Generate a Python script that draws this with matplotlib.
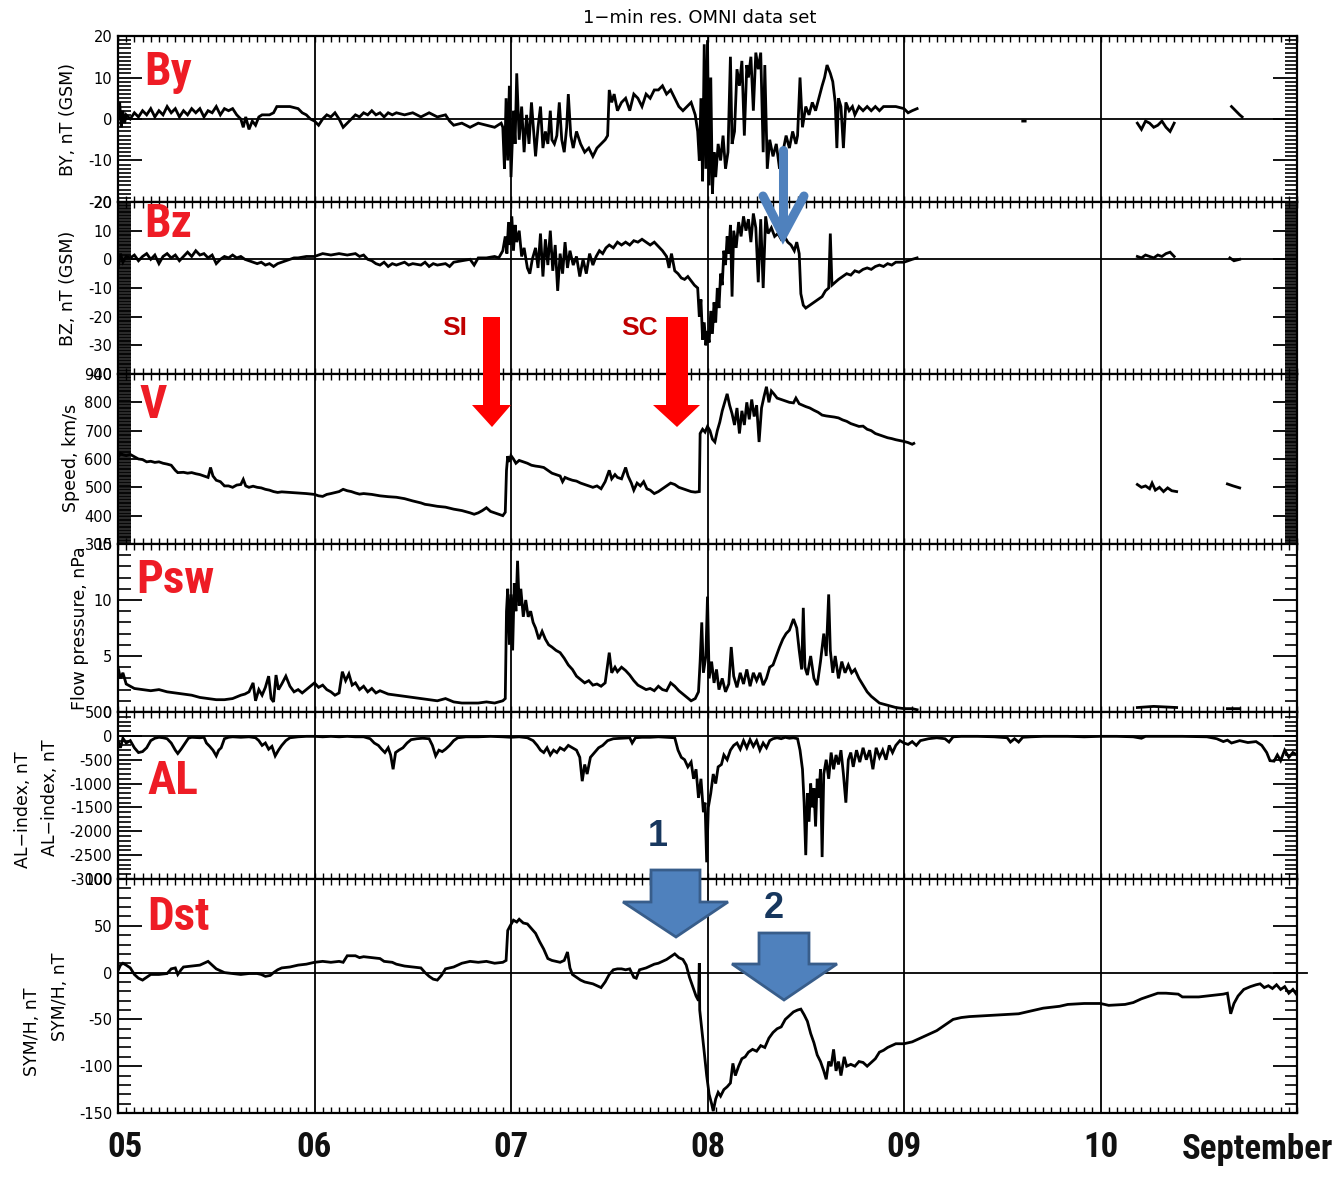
import numpy as np
import matplotlib
matplotlib.use("Agg")
import matplotlib.pyplot as plt
from matplotlib import font_manager
from matplotlib.patches import Polygon
from matplotlib.ticker import MultipleLocator, FixedLocator
from matplotlib.transforms import ScaledTranslation

nan = float("nan")

# ---------------- data (hours since 5 Sept 00 UT, value) ----------------
by_pts = [
(0.0,0),(0.2,4),(0.4,-2),(0.6,2),(0.8,-1),(1.0,1),(1.5,0),(2.0,1.5),(2.5,0.5),(3.0,2),(3.5,1),(4.0,2.5),(4.5,0.5),
(5.0,2),(5.5,1),(6.0,3),(6.5,1.5),(7.0,2.5),(7.5,0.5),(8.0,2),(8.5,1),(9.0,2.5),(9.5,1.5),(10.0,2.5),(10.5,0.5),
(11.0,2),(11.5,1.5),(12.0,3),(12.5,1),(13.0,2.5),(13.5,2),(14.0,2.5),(14.5,1),(15.0,0),(15.3,-2),(15.6,0.5),
(16.0,-2.5),(16.4,-0.5),(16.8,-1.5),(17.2,0.5),(17.6,1),(18.5,1),(19.0,1.5),(19.4,3),(20.0,3),(21.0,3),(22.0,2.5),
(22.5,1.5),(23.0,1),(23.5,0),(24.0,-0.5),(24.5,-1.5),(25.0,0),(25.5,1),(26.0,0.5),(26.5,1.5),(27.0,0),(27.5,-2),
(28.0,-1),(28.5,0),(29.0,1),(29.5,0.5),(30.0,1.5),(30.5,1),(31.0,2),(31.5,1),(32.0,1.5),(32.5,0.5),(33.0,1.5),
(33.5,1),(34.0,1.5),(35.0,1),(36.0,1.5),(37.0,0.5),(38.0,1.5),(39.0,0.5),(40.0,1),(40.5,-0.5),(41.0,-1.5),
(42.0,-1),(43.0,-2),(44.0,-1),(45.0,-1.5),(46.0,-2),(46.8,-1),(47.0,-2),
(47.2,-12),(47.4,5),(47.6,-10),(47.8,8),(48.0,-14),(48.3,2),(48.5,-6),(48.7,11),(49.0,-5),(49.3,3),(49.6,-8),
(49.9,1),(50.2,-6),(50.5,4),(50.8,-4),(51.0,-9),(51.3,-2),(51.6,3),(51.9,-7),(52.2,-3),(52.5,-6),(52.8,2),
(53.0,-5),(53.3,-6),(53.6,-4),(53.9,4),(54.2,-5),(54.5,-8),(54.8,-2),(55.0,6),(55.3,-4),(55.6,-7),(56.0,-3),
(56.5,-6),(57.0,-8),(57.5,-7),(58.0,-9),(58.5,-7),(59.0,-6),(59.5,-5),(59.8,-4),(60.0,7),(60.3,4),(60.6,6),
(61.0,2),(61.5,4),(62.0,5),(62.5,2),(63.0,6),(63.5,5),(64.0,3),(64.5,6),(65.0,5),(65.5,7),(66.0,7),(66.5,8),
(67.0,6),(67.5,7),(68.0,5),(68.5,3),(69.0,2),(69.5,3),(70.0,4),(70.5,1),(70.8,-3),
(71.0,-10),(71.2,5),(71.4,-15),(71.6,18),(71.8,-12),(72.0,19),(72.2,-16),(72.4,10),(72.6,-18),(72.8,-8),
(73.0,-14),(73.3,-6),(73.6,-10),(73.9,-4),(74.2,-12),(74.5,-8),(74.8,15),(75.0,-6),(75.3,-3),(75.6,12),
(75.9,8),(76.2,14),(76.5,-4),(76.8,13),(77.0,10),(77.3,15),(77.6,2),(77.9,16),(78.2,12),(78.5,16),(78.8,-8),
(79.0,13),(79.3,-12),(79.6,-5),(80.0,-9),(80.4,-6),(80.8,-12),(81.2,-8),(81.6,-4),(82.0,-7),(82.4,-3),
(82.8,-6),(83.0,-4),(83.3,10),(83.6,-2),(84.0,3),(84.4,1),(84.8,4),(85.2,2),(85.6,5),(86.0,8),(86.3,10),
(86.6,13),(87.0,11),(87.3,9),(87.6,4),(87.8,-7),(88.0,5),(88.3,3),(88.6,-7),(88.9,4),(89.3,2),(89.7,3),
(90.0,1),(90.5,3),(91.0,2),(91.5,3),(92.0,2),(92.5,3),(93.0,2),(93.5,3),(94.0,3),(95.0,3),(96.0,2.5),
(96.5,1.5),(97.0,2),(97.6,2.5),(98.0,nan),
(110.5,-0.5),(110.8,-0.5),(111.0,nan),
(124.5,-1),(125.0,-2.5),(125.5,-0.5),(126.0,-1),(126.5,-2),(127.0,-1.5),(127.5,-0.5),(128.0,-2),(128.5,-3),
(129.0,-1),(129.5,nan),
(136.0,3),(136.5,2),(137.0,1),(137.3,0.5),
]

bz_pts = [
(0.0,-3),(0.3,2),(0.6,-1),(1.0,1),(1.5,0.5),(2.0,1.5),(2.5,-0.5),(3.0,1),(3.5,2),(4.0,0),(4.5,1.5),(5.0,-1.5),
(5.5,1),(6.0,2),(6.5,0.5),(7.0,1.5),(7.5,-0.5),(8.0,1),(8.5,2.5),(9.0,1),(9.5,3),(10.0,1.5),(10.5,2),(11.0,0.5),
(11.5,1.5),(12.0,-1.5),(12.5,0),(13.0,1),(13.5,0.5),(14.0,1.5),(14.5,0.5),(15.0,1),(15.5,0),(16.0,-0.5),
(16.5,-1),(17.0,-1.5),(17.5,-1),(18.0,-2),(18.5,-1.5),(19.0,-2.5),(19.5,-1.5),(20.0,-1),(20.5,-0.5),(21.0,0),
(21.5,0.5),(22.0,0.5),(23.0,1),(24.0,1),(25.0,2),(26.0,1.5),(27.0,2),(28.0,1.5),(29.0,2),(29.5,1),(30.0,1.5),
(30.5,0),(31.0,-0.5),(31.5,-1.5),(32.0,-2),(32.5,-1),(33.0,-2.5),(33.5,-1.5),(34.0,-2),(35.0,-1),(35.5,-2),
(36.0,-1.5),(37.0,-2),(37.5,-1),(38.0,-2.5),(38.5,-1.5),(39.0,-2),(40.0,-1.5),(40.5,-2.5),(41.0,-1),(42.0,-0.5),
(43.0,0),(43.5,-2),(44.0,0.5),(45.0,0.5),(46.0,1),(46.5,0.5),(47.0,3),
(47.3,8),(47.5,2),(47.7,13),(47.9,5),(48.1,15),(48.3,3),(48.5,12),(48.7,6),(49.0,10),(49.3,1),(49.6,4),
(50.0,-3),(50.3,-5),(50.6,0),(51.0,4),(51.3,-3),(51.6,9),(51.9,-6),(52.2,7),(52.5,-2),(52.8,10),(53.1,-4),
(53.4,5),(53.7,-11),(54.0,2),(54.3,-5),(54.6,6),(54.9,-3),(55.2,3),(55.6,-2),(56.0,1),(56.4,-6),(56.8,0),
(57.2,-5),(57.6,2),(58.0,-2),(58.4,1),(58.8,3),(59.2,2),(59.6,4),(60.0,5),(60.5,4),(61.0,6),(61.5,5),(62.0,6),
(62.5,5),(63.0,6.5),(63.5,6),(64.0,7),(64.5,6),(65.0,5),(65.5,6),(66.0,4.5),(66.5,3),(67.0,1),(67.3,-3),
(67.6,2),(68.0,-4),(68.4,-5),(68.8,-6.5),(69.2,-7),(69.6,-6),(70.0,-7.5),(70.4,-9),(70.8,-10),(71.0,-20),
(71.2,-14),(71.4,-28),(71.6,-22),(71.8,-30),(72.0,-25),(72.2,-29),(72.4,-18),(72.6,-26),(72.8,-15),(73.0,-22),
(73.2,-10),(73.4,-17),(73.6,-5),(73.8,-9),(74.0,3),(74.2,-2),(74.4,8),(74.6,2),(74.8,12),(75.0,-13),(75.2,10),
(75.5,4),(75.8,13),(76.1,8),(76.4,15),(76.7,10),(77.0,14),(77.3,6),(77.6,16),(77.9,11),(78.2,-8),(78.5,14),
(78.8,-10),(79.1,15),(79.4,9),(79.8,11),(80.2,8),(80.6,9),(81.0,7),(81.4,8),(81.8,6),(82.2,5),(82.6,3),
(82.9,6),(83.2,2),(83.4,-12),(83.7,-16),(84.0,-17),(84.5,-16),(85.0,-15),(85.5,-14),(86.0,-13),(86.4,-11),
(86.8,-10),(87.0,9),(87.2,-9),(87.6,-8),(88.0,-7),(88.5,-6),(89.0,-5),(89.5,-5.5),(90.0,-4),(90.5,-4.5),
(91.0,-3.5),(91.5,-3),(92.0,-3.5),(92.5,-2.5),(93.0,-2),(93.5,-2.5),(94.0,-1.5),(94.5,-2),(95.0,-1),
(96.0,-1),(97.0,0),(97.6,0.5),(98.0,nan),
(124.5,1),(125.0,0.5),(125.5,1.5),(126.0,1),(126.5,0.5),(127.0,1.5),(127.5,1),(128.0,2),(128.5,2.5),
(129.0,1),(129.5,nan),
(135.8,0.5),(136.3,-0.5),(137.0,0),
]

v_pts = [
(0.0,605),(0.3,620),(0.6,615),(1.0,612),(1.5,616),(2.0,608),(2.5,600),(3.0,598),(3.5,590),(4.0,592),(4.5,588),
(5.0,590),(5.5,585),(6.0,582),(6.5,578),(7.0,560),(7.3,552),(8.0,553),(8.5,550),(9.0,552),(9.5,548),(10.0,545),
(10.5,540),(11.0,535),(11.3,570),(11.6,540),(12.0,525),(12.5,520),(13.0,505),(13.5,505),(14.0,500),(14.5,508),
(15.0,510),(15.3,528),(15.6,505),(16.0,500),(16.5,504),(17.0,500),(17.5,498),(18.0,493),(18.5,490),(19.0,485),
(19.5,482),(20.0,484),(21.0,482),(22.0,480),(23.0,478),(24.0,475),(24.5,470),(25.0,468),(25.5,475),(26.0,478),
(27.0,485),(27.5,493),(28.0,488),(28.5,485),(29.0,480),(29.5,476),(30.0,478),(31.0,475),(32.0,470),(33.0,467),
(34.0,465),(35.0,460),(36.0,452),(37.0,445),(37.5,440),(38.0,438),(39.0,433),(40.0,430),(41.0,423),(42.0,418),
(43.0,410),(43.5,405),(44.0,410),(44.5,418),(45.0,428),(45.5,415),(46.0,410),(46.5,405),(47.0,400),(47.3,412),
(47.45,560),(47.6,610),(47.8,590),(48.0,612),(48.3,600),(48.6,585),(49.0,595),(49.5,590),(50.0,585),(50.5,578),
(51.0,575),(51.5,573),(52.0,570),(52.5,560),(53.0,550),(53.5,545),(54.0,540),(54.3,520),(54.6,535),(55.0,530),
(55.5,525),(56.0,522),(56.5,515),(57.0,510),(57.5,505),(58.0,500),(58.5,505),(59.0,495),(59.5,520),(60.0,560),
(60.3,530),(60.7,545),(61.0,535),(61.5,530),(62.0,570),(62.3,540),(62.7,515),(63.0,490),(63.4,515),(63.8,505),
(64.2,520),(64.6,495),(65.0,490),(65.5,478),(66.0,485),(66.5,495),(67.0,505),(67.5,515),(68.0,510),(68.5,500),
(69.0,495),(69.5,490),(70.0,485),(70.5,483),(71.0,485),(71.1,690),(71.4,705),(71.7,695),(72.0,715),(72.3,700),
(72.6,670),(72.9,660),(73.2,700),(73.5,730),(73.8,770),(74.1,800),(74.4,830),(74.7,790),(75.0,760),(75.3,720),
(75.6,780),(75.9,690),(76.2,770),(76.5,720),(76.8,800),(77.1,740),(77.4,810),(77.7,750),(78.0,790),(78.3,660),
(78.6,780),(78.9,820),(79.2,855),(79.5,800),(79.8,840),(80.1,830),(80.5,815),(81.0,810),(81.5,805),(82.0,800),
(82.5,798),(82.8,815),(83.2,795),(83.6,790),(84.0,785),(84.5,780),(85.0,772),(85.5,765),(86.0,755),(86.5,752),
(87.0,750),(87.5,748),(88.0,745),(88.5,738),(89.0,733),(89.5,725),(90.0,720),(90.5,715),(91.0,716),(91.5,705),
(92.0,700),(92.5,690),(93.0,685),(93.5,680),(94.0,675),(94.5,672),(95.0,668),(95.5,665),(96.0,662),(96.5,658),
(97.0,652),(97.2,655),(97.5,nan),
(124.5,510),(125.0,500),(125.5,505),(126.0,495),(126.3,515),(126.7,490),(127.2,500),(127.7,485),(128.2,498),
(128.7,488),(129.3,485),(129.5,nan),
(135.5,512),(136.2,505),(137.0,498),
]

psw_pts = [
(0.0,4.0),(0.3,3.0),(0.6,3.5),(1.0,2.5),(1.5,2.3),(2.0,2.1),(3.0,2.0),(4.0,1.9),(5.0,2.0),(6.0,1.8),(7.0,1.7),
(8.0,1.6),(9.0,1.5),(10.0,1.3),(11.0,1.2),(12.0,1.1),(13.0,1.1),(14.0,1.2),(15.0,1.5),(15.5,1.6),(16.0,1.8),
(16.5,2.6),(16.8,1.0),(17.2,2.0),(17.6,1.5),(18.0,2.2),(18.4,3.2),(18.7,1.2),(19.0,0.9),(19.3,3.3),(19.6,2.0),
(20.0,2.5),(20.5,3.2),(21.0,2.3),(21.5,1.8),(22.0,2.0),(22.5,1.7),(23.0,2.0),(23.5,2.3),(24.0,2.6),(24.5,2.2),
(25.0,2.4),(25.5,2.0),(26.0,1.8),(26.5,1.5),(27.0,1.7),(27.4,3.6),(27.8,2.8),(28.2,3.4),(28.6,2.4),(29.0,2.6),
(29.5,2.0),(30.0,2.3),(30.5,1.8),(31.0,2.1),(31.5,1.7),(32.0,1.9),(33.0,1.6),(34.0,1.5),(35.0,1.4),(36.0,1.3),
(37.0,1.2),(38.0,1.1),(39.0,1.0),(40.0,1.2),(41.0,0.9),(42.0,0.8),(43.0,0.8),(44.0,0.8),(45.0,0.9),(46.0,0.8),
(47.0,1.0),(47.3,1.2),(47.45,9.0),(47.6,11.0),(47.8,6.0),(48.0,10.5),(48.2,5.5),(48.4,11.5),(48.6,9.0),
(48.8,13.5),(49.0,9.5),(49.2,11.0),(49.5,8.5),(49.8,10.0),(50.1,8.5),(50.4,9.0),(50.7,8.0),(51.0,7.5),
(51.4,6.5),(51.8,7.2),(52.2,6.5),(52.6,6.0),(53.0,5.8),(53.5,5.5),(54.0,5.3),(54.5,4.8),(55.0,4.2),(55.5,3.8),
(56.0,3.2),(56.5,2.9),(57.0,2.6),(57.5,2.8),(58.0,2.4),(58.5,2.5),(59.0,2.3),(59.5,2.6),(60.0,5.3),(60.3,3.5),
(60.7,4.0),(61.0,3.6),(61.5,4.0),(62.0,3.7),(62.5,3.3),(63.0,2.8),(63.5,2.4),(64.0,2.2),(64.5,2.0),(65.0,2.1),
(65.5,1.9),(66.0,2.3),(66.5,2.0),(67.0,1.9),(67.5,2.6),(68.0,2.3),(68.5,1.9),(69.0,1.6),(69.5,1.3),(70.0,1.0),
(70.5,1.2),(70.9,1.8),(71.1,4.5),(71.3,8.0),(71.5,3.5),(71.8,5.0),(72.0,10.3),(72.2,3.0),(72.5,4.5),(72.8,2.6),
(73.1,3.8),(73.4,2.0),(73.8,3.0),(74.2,1.8),(74.6,2.5),(74.9,5.8),(75.2,3.2),(75.6,2.2),(76.0,3.5),(76.4,2.5),
(76.8,3.8),(77.2,2.3),(77.6,3.5),(78.0,2.8),(78.4,3.5),(78.8,2.4),(79.2,3.0),(79.6,4.0),(80.0,4.2),(80.4,5.0),
(80.8,5.8),(81.2,6.5),(81.6,7.0),(82.0,7.3),(82.5,8.3),(82.9,7.5),(83.2,5.5),(83.5,3.8),(83.7,9.3),(83.9,4.0),
(84.2,3.3),(84.6,5.0),(85.0,3.0),(85.4,2.4),(85.8,4.5),(86.2,7.0),(86.5,5.0),(86.8,10.5),(87.0,5.5),(87.3,3.5),
(87.6,5.0),(88.0,3.0),(88.4,4.5),(88.8,3.5),(89.2,4.2),(89.6,3.5),(90.0,3.8),(90.5,3.0),(91.0,2.4),(91.5,1.8),
(92.0,1.4),(92.5,1.1),(93.0,0.8),(94.0,0.6),(95.0,0.4),(96.0,0.3),(97.0,0.3),(97.6,0.2),(98.0,nan),
(124.5,0.4),(126.5,0.5),(129.3,0.4),(129.5,nan),
(135.5,0.3),(137.0,0.3),
]

al_pts = [
(0.0,-100),(0.3,-250),(0.6,-50),(1.0,-150),(1.5,-100),(2.0,-250),(2.5,-350),(3.0,-330),(3.5,-250),(4.0,-100),
(4.5,-50),(5.0,-30),(5.5,-40),(6.0,-60),(6.5,-150),(7.0,-300),(7.3,-370),(7.7,-280),(8.2,-150),(8.6,-50),
(9.0,-30),(10.0,-40),(10.5,-30),(10.8,-150),(11.2,-220),(11.6,-300),(12.0,-420),(12.3,-300),(12.6,-250),
(13.0,-60),(13.5,-30),(14.0,-20),(15.0,-30),(16.0,-20),(16.8,-40),(17.2,-100),(17.6,-200),(18.0,-150),
(18.4,-280),(18.8,-220),(19.2,-420),(19.6,-300),(20.0,-200),(20.5,-100),(21.0,-40),(22.0,-20),(23.0,-10),
(24.0,-10),(25.0,-20),(26.0,-10),(27.0,-20),(28.0,-10),(29.0,-20),(30.0,-20),(30.8,-60),(31.3,-150),
(31.8,-200),(32.2,-280),(32.6,-350),(33.0,-250),(33.3,-400),(33.6,-700),(33.9,-350),(34.3,-300),(34.8,-250),
(35.3,-150),(35.8,-80),(36.5,-60),(37.2,-50),(38.0,-60),(38.4,-200),(38.8,-420),(39.2,-300),(39.6,-330),
(40.0,-280),(40.5,-200),(41.0,-100),(41.5,-40),(42.5,-20),(44.0,-20),(45.5,-10),(47.0,-20),(48.0,-30),
(49.0,-20),(50.0,-40),(50.7,-100),(51.2,-200),(51.6,-300),(52.0,-350),(52.4,-250),(52.8,-400),(53.2,-300),
(53.6,-350),(54.0,-250),(54.5,-300),(55.0,-200),(55.5,-250),(56.0,-300),(56.4,-450),(56.7,-950),(57.0,-600),
(57.3,-800),(57.7,-450),(58.2,-350),(58.7,-250),(59.2,-200),(59.8,-100),(60.5,-60),(61.5,-50),(62.5,-40),
(62.8,-150),(63.2,-40),(64.0,-30),(65.0,-30),(66.0,-20),(67.0,-30),(68.0,-40),(68.4,-300),(68.8,-450),
(69.2,-500),(69.6,-650),(70.0,-550),(70.3,-900),(70.6,-700),(70.9,-1300),(71.2,-900),(71.5,-1600),
(71.7,-1400),(71.9,-2650),(72.1,-1500),(72.4,-1200),(72.7,-800),(73.0,-1000),(73.3,-650),(73.7,-600),
(74.0,-400),(74.4,-500),(74.8,-300),(75.2,-200),(75.6,-150),(76.0,-280),(76.4,-100),(76.8,-250),(77.2,-80),
(77.6,-220),(78.0,-100),(78.4,-300),(78.8,-150),(79.2,-250),(79.6,-100),(80.0,-60),(80.5,-40),(81.0,-60),
(81.5,-30),(82.0,-50),(82.5,-40),(83.0,-60),(83.3,-300),(83.6,-700),(83.8,-1400),(84.0,-2500),(84.2,-1200),
(84.4,-1800),(84.6,-1000),(84.8,-1500),(85.0,-1100),(85.2,-1900),(85.4,-900),(85.6,-1300),(85.8,-700),
(86.0,-2540),(86.2,-800),(86.5,-500),(86.8,-900),(87.1,-350),(87.4,-700),(87.7,-400),(88.0,-600),(88.3,-300),
(88.6,-800),(88.9,-1400),(89.2,-500),(89.5,-350),(89.8,-650),(90.2,-300),(90.6,-550),(91.0,-250),(91.4,-500),
(91.8,-300),(92.2,-700),(92.6,-250),(93.0,-450),(93.4,-300),(93.8,-500),(94.2,-200),(94.6,-350),(95.0,-200),
(95.5,-100),(96.0,-150),(96.5,-180),(97.0,-120),(97.5,-200),(98.0,-100),(99.0,-60),(100.0,-40),(101.0,-60),
(101.5,-130),(102.0,-20),(103.0,-10),(105.0,-10),(107.0,-20),(108.6,-40),(109.0,-130),(109.5,-60),
(110.0,-130),(110.5,-30),(111.5,-20),(113.0,-10),(116.0,-10),(118.0,-20),(120.0,-10),(122.0,-10),(124.0,-20),
(125.0,-50),(125.5,-10),(127.0,-10),(130.0,-10),(133.0,-20),(134.2,-60),(135.0,-120),(135.5,-90),(136.0,-150),
(137.0,-100),(138.0,-140),(139.0,-120),(139.7,-200),(140.3,-350),(140.7,-520),(141.2,-530),(141.6,-400),
(142.0,-520),(142.5,-300),(143.0,-450),(143.5,-350),(144.0,-400),
]

dst_pts = [
(0.0,2),(0.3,8),(0.6,10),(1.0,8),(1.5,5),(2.0,-2),(2.5,-6),(3.0,-8),(3.5,-5),(4.0,-2),(5.0,-2),(6.0,-1),
(6.5,4),(7.0,5),(7.3,-2),(7.7,3),(8.0,6),(9.0,7),(10.0,8),(10.5,10),(11.0,12),(11.5,8),(12.0,4),(12.5,2),
(13.0,0),(14.0,-1),(15.0,-2),(16.0,-1),(17.0,-1),(17.5,-2),(18.0,-4),(18.6,-3),(19.0,0),(19.5,3),(20.0,5),
(21.0,6),(22.0,8),(23.0,9),(24.0,11),(25.0,12),(26.0,11),(27.0,12),(27.5,11),(28.0,18),(29.0,18),(29.5,16),
(30.0,17),(31.0,16),(32.0,15),(32.5,12),(33.5,11),(34.0,9),(35.0,7),(36.0,6),(37.0,5),(37.5,0),(38.0,-4),
(38.5,-7),(39.0,-8),(39.5,-3),(40.0,4),(41.0,6),(41.5,8),(42.0,10),(43.0,12),(44.0,11),(45.0,12),(46.0,10),
(47.0,11),(47.4,13),(47.6,45),(47.9,50),(48.3,56),(48.7,54),(49.0,57),(49.5,53),(50.0,52),(50.5,47),(51.0,42),
(51.5,33),(52.0,25),(52.5,15),(53.0,13),(53.5,12),(54.0,11),(54.5,13),(54.9,22),(55.2,5),(55.5,-2),(56.0,-5),
(56.5,-8),(57.0,-10),(57.5,-11),(58.0,-12),(58.5,-14),(59.0,-16),(59.5,-10),(60.0,-2),(60.5,3),(61.0,4),
(61.5,4),(62.0,3),(62.5,4),(63.0,-5),(63.3,-6),(63.7,3),(64.5,5),(65.0,7),(65.5,9),(66.0,10),(66.5,12),
(67.0,14),(67.5,17),(68.0,20),(68.5,16),(69.0,14),(69.4,8),(69.8,-5),(70.2,-15),(70.6,-25),(70.9,-30),
(71.0,10),(71.05,-40),(71.3,-60),(71.6,-85),(71.9,-110),(72.2,-130),(72.5,-140),(72.7,-148),(73.0,-135),
(73.3,-128),(73.6,-132),(74.0,-125),(74.4,-122),(74.8,-118),(75.1,-97),(75.4,-110),(75.8,-100),(76.2,-92),
(76.6,-90),(77.0,-85),(77.5,-82),(78.0,-84),(78.5,-78),(79.0,-80),(79.5,-70),(80.0,-64),(80.5,-60),(81.0,-58),
(81.5,-50),(82.0,-46),(82.5,-42),(83.0,-40),(83.4,-39),(83.8,-45),(84.2,-52),(84.6,-65),(85.0,-75),(85.4,-88),
(85.8,-95),(86.2,-105),(86.5,-114),(86.8,-95),(87.1,-100),(87.4,-82),(87.7,-105),(88.0,-95),(88.3,-110),
(88.7,-90),(89.0,-100),(89.5,-98),(90.0,-100),(90.5,-95),(91.0,-96),(91.5,-100),(92.0,-96),(92.5,-92),
(93.0,-85),(93.5,-83),(94.0,-80),(94.5,-78),(95.0,-76),(96.0,-76),(97.0,-74),(98.0,-70),(99.0,-66),(100.0,-62),
(101.0,-56),(102.0,-50),(103.0,-48),(104.0,-47),(106.0,-46),(108.0,-45),(110.0,-44),(111.0,-42),(112.0,-40),
(113.0,-38),(114.0,-37),(115.0,-36),(116.0,-34),(118.0,-33),(120.0,-33),(121.0,-35),(123.0,-34),(124.0,-32),
(125.0,-28),(126.0,-25),(127.0,-22),(128.0,-22),(129.5,-23),(130.0,-26),(131.0,-26),(132.0,-26),(133.0,-25),
(134.0,-24),(135.0,-23),(135.5,-22),(135.9,-44),(136.3,-33),(136.8,-25),(137.5,-18),(138.3,-15),(139.0,-13),
(139.5,-12),(140.0,-16),(140.5,-14),(141.0,-17),(141.5,-13),(142.0,-18),(142.5,-15),(143.0,-22),(143.5,-18),
(144.0,-24),
]

day_labels = ["05", "06", "07", "08", "09", "10"]
month_label = "September"
panel_names = ["By", "Bz", "V", "Psw", "AL", "Dst"]
ylabels = ["BY, nT (GSM)", "BZ, nT (GSM)", "Speed, km/s", "Flow pressure, nPa", "AL\u2212index, nT", "SYM/H, nT"]
ylims = [(-20, 20), (-40, 20), (300, 900), (0, 15), (-3000, 500), (-150, 100)]
major_ticks = [[-20, -10, 0, 10, 20], [-40, -30, -20, -10, 0, 10, 20],
               [300, 400, 500, 600, 700, 800, 900], [0, 5, 10, 15],
               [-3000, -2500, -2000, -1500, -1000, -500, 0, 500],
               [-150, -100, -50, 0, 50, 100]]
minor_steps = [1, 0.5, 5, 1, 100, 10]
zero_line = [True, True, False, False, True, True]

# ---------------- fonts ----------------
names = {f.name for f in font_manager.fontManager.ttflist}

def pick(cands):
    for c in cands:
        if c in names:
            return c
    return "DejaVu Sans"

NARROW = pick(["Liberation Sans Narrow", "Roboto Condensed", "Roboto", "Lato", "DejaVu Sans"])
BOLDF = pick(["Liberation Sans", "Roboto", "DejaVu Sans"])

W, H = 1340, 1188
fig = plt.figure(figsize=(W / 100, H / 100), dpi=100)
fig.patch.set_facecolor("white")

def fx(x):
    return x / W

def fy(y):
    return 1 - y / H

x_left, x_right = 118, 1297
panel_px = [(36, 202), (202, 374), (374, 544), (544, 712), (712, 879), (879, 1113)]
series = [by_pts, bz_pts, v_pts, psw_pts, al_pts, dst_pts]

axes = []
for i, (top, bot) in enumerate(panel_px):
    ax = fig.add_axes([fx(x_left), fy(bot), (x_right - x_left) / W, (bot - top) / H])
    axes.append(ax)
    t = np.array([p[0] for p in series[i]])
    v = np.array([p[1] for p in series[i]])
    ax.plot(t, v, color="black", lw=2.0, solid_joinstyle="miter")
    ax.set_xlim(0, 144)
    ax.set_ylim(*ylims[i])
    for d in range(24, 144, 24):
        ax.axvline(d, color="black", lw=1.3, zorder=1)
    if zero_line[i]:
        if i == 5:
            ax.plot([0, 145.2], [0, 0], color="black", lw=1.3, clip_on=False)
        else:
            ax.axhline(0, color="black", lw=1.3)
    for s in ax.spines.values():
        s.set_linewidth(1.6)
    ax.yaxis.set_major_locator(FixedLocator(major_ticks[i]))
    ax.yaxis.set_minor_locator(MultipleLocator(minor_steps[i]))
    ax.set_yticklabels([str(m) for m in major_ticks[i]])
    ax.tick_params(axis="y", which="major", direction="in", length=17, width=1.3,
                   left=True, right=True, labelsize=10.5, pad=4)
    ax.tick_params(axis="y", which="minor", direction="in", length=9, width=1.2,
                   left=True, right=True)
    ax.xaxis.set_minor_locator(MultipleLocator(1))
    ax.tick_params(axis="x", which="minor", direction="in", length=4, width=1.0,
                   top=True, bottom=True)
    if i < 5:
        ax.set_xticks([])
    else:
        ax.set_xticks(range(0, 121, 24))
        ax.set_xticklabels(day_labels, fontsize=25, fontweight="bold", family=NARROW,
                           color="#111111")
        ax.tick_params(axis="x", which="major", length=0, pad=13)
        ax.text(139.2, -0.085, month_label, transform=ax.get_xaxis_transform(),
                ha="center", va="top", fontsize=25, fontweight="bold", family=NARROW,
                color="#111111")

# day label "05" sits slightly right of the axis edge
lbl05 = axes[5].get_xticklabels()[0]
lbl05.set_transform(lbl05.get_transform() + ScaledTranslation(7 / 100, 0, fig.dpi_scale_trans))

# panel y labels
ylab_pos = [(68, 120), (68, 288), (71, 458), (80, 628), (50, 798), (60, 997)]
for (x, y), txt in zip(ylab_pos, ylabels):
    fig.text(fx(x), fy(y), txt, rotation=90, ha="center", va="center", fontsize=12.5)
fig.text(fx(23), fy(810), ylabels[4], rotation=90, ha="center", va="center", fontsize=12.5)
fig.text(fx(32), fy(1032), ylabels[5], rotation=90, ha="center", va="center", fontsize=12.5)

fig.text(fx(700), fy(18), "1\u2212min res. OMNI data set", ha="center", va="center", fontsize=13)
fig.text(fx(690), fy(1196), "UT of month", ha="center", va="center", fontsize=10)

# red panel names
name_pos = [(144, 72), (144, 224), (140, 405), (136, 580), (147, 781), (147, 917)]
for (x, y), txt in zip(name_pos, panel_names):
    fig.text(fx(x), fy(y), txt, ha="left", va="center", fontsize=34, fontweight="bold",
             family=NARROW, color="#EE1C25")

# ---------------- annotation overlay (pixel coords) ----------------
ov = fig.add_axes([0, 0, 1, 1], facecolor="none")
ov.set_xlim(0, W)
ov.set_ylim(H, 0)
ov.axis("off")

def red_arrow(x0, x1, ytop, ybase, hx0, hx1, tip):
    poly = [(x0, ytop), (x1, ytop), (x1, ybase), (hx1, ybase), tip, (hx0, ybase), (x0, ybase)]
    ov.add_patch(Polygon(poly, closed=True, facecolor="#FF0000", edgecolor="none"))

red_arrow(483, 500, 317, 405, 472, 511, (492, 427))
red_arrow(666, 688, 317, 405, 653, 700, (677, 427))
ov.text(455, 328, "SI", ha="center", va="center", fontsize=19, fontweight="bold",
        family=BOLDF, color="#C00000")
ov.text(640, 328, "SC", ha="center", va="center", fontsize=19, fontweight="bold",
        family=BOLDF, color="#C00000")

blue = "#4F81BD"
ov.plot([783, 783], [150, 232], color=blue, lw=6.5, solid_capstyle="round")
ov.plot([763, 783, 804], [196, 235, 196], color=blue, lw=6.5, solid_capstyle="round",
        solid_joinstyle="miter")

def block_arrow(x0, x1, ytop, ybase, hx0, hx1, tip):
    poly = [(x0, ytop), (x1, ytop), (x1, ybase), (hx1, ybase), tip, (hx0, ybase), (x0, ybase)]
    ov.add_patch(Polygon(poly, closed=True, facecolor=blue, edgecolor="#385D8A", lw=2))

block_arrow(651, 700, 870, 902, 623, 728, (676, 937))
block_arrow(759, 809, 933, 964, 732, 837, (784, 1000))
ov.text(658, 837, "1", ha="center", va="center", fontsize=26, fontweight="bold",
        family=BOLDF, color="#17375E")
ov.text(774, 909, "2", ha="center", va="center", fontsize=26, fontweight="bold",
        family=BOLDF, color="#17375E")

fig.savefig("out.png", dpi=100)
